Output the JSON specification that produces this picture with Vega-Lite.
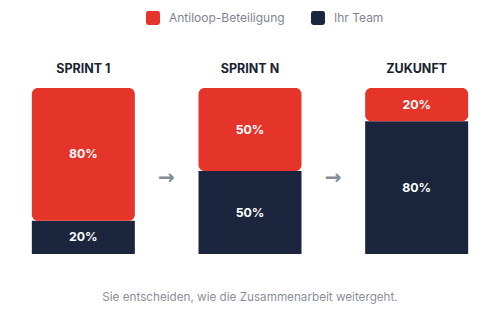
{
  "$schema": "https://vega.github.io/schema/vega-lite/v6.json",
  "width": 500,
  "height": 166,
  "autosize": {"type": "none"},
  "padding": {"top": 88, "left": 0, "right": 0, "bottom": 79},
  "background": "white",
  "config": {"view": {"stroke": null}, "font": "Inter"},
  "title": {
    "text": "Sie entscheiden, wie die Zusammenarbeit weitergeht.",
    "orient": "bottom",
    "anchor": "middle",
    "offset": 38,
    "fontSize": 11.7,
    "fontWeight": "normal",
    "color": "#8a8f9b",
    "font": "Inter"
  },
  "data": {
    "values": [
      {"stage": "SPRINT 1", "series": "Antiloop-Beteiligung", "value": 80},
      {"stage": "SPRINT 1", "series": "Ihr Team", "value": 20},
      {"stage": "SPRINT N", "series": "Antiloop-Beteiligung", "value": 50},
      {"stage": "SPRINT N", "series": "Ihr Team", "value": 50},
      {"stage": "ZUKUNFT", "series": "Antiloop-Beteiligung", "value": 20},
      {"stage": "ZUKUNFT", "series": "Ihr Team", "value": 80}
    ]
  },
  "transform": [
    {"stack": "value", "groupby": ["stage"], "sort": [{"field": "series", "order": "descending"}], "as": ["v0", "v1"]},
    {"calculate": "datum.value + '%'", "as": "label"}
  ],
  "encoding": {
    "x": {
      "field": "stage",
      "type": "nominal",
      "sort": ["SPRINT 1", "SPRINT N", "ZUKUNFT"],
      "scale": {"paddingInner": 0.382, "paddingOuter": 0.191},
      "axis": null
    }
  },
  "layer": [
    {
      "transform": [{"filter": "datum.series === 'Ihr Team'"}],
      "mark": {"type": "bar"},
      "encoding": {
        "y": {"field": "v0", "type": "quantitative", "scale": {"domain": [0, 100]}, "axis": null},
        "y2": {"field": "v1"},
        "color": {
          "field": "series",
          "type": "nominal",
          "scale": {"domain": ["Antiloop-Beteiligung", "Ihr Team"], "range": ["#e5342a", "#1b253e"]},
          "legend": {
            "title": null,
            "orient": "none",
            "direction": "horizontal",
            "legendX": 146,
            "legendY": -77,
            "padding": 0,
            "symbolType": "M-0.65,-1H0.65Q1,-1 1,-0.65V0.65Q1,1 0.65,1H-0.65Q-1,1 -1,0.65V-0.65Q-1,-1 -0.65,-1Z",
            "symbolSize": 196,
            "symbolStrokeWidth": 0,
            "symbolOpacity": 1,
            "labelFontSize": 12,
            "labelColor": "#7f8491",
            "labelFont": "Inter",
            "labelOffset": 9,
            "columnPadding": 26
          }
        }
      }
    },
    {
      "transform": [{"filter": "datum.series === 'Antiloop-Beteiligung'"}],
      "mark": {"type": "bar", "cornerRadius": 6},
      "encoding": {
        "y": {"field": "v0", "type": "quantitative"},
        "y2": {"field": "v1"},
        "color": {"field": "series", "type": "nominal"}
      }
    },
    {
      "mark": {"type": "text", "color": "white", "fontSize": 12.3, "fontWeight": "bold", "font": "Inter", "baseline": "middle"},
      "encoding": {
        "y": {"field": "v0", "type": "quantitative", "bandPosition": 0},
        "text": {"field": "label"}
      },
      "transform": [{"calculate": "(datum.v0 + datum.v1) / 2", "as": "v0"}]
    },
    {
      "transform": [{"filter": "datum.series === 'Ihr Team'"}],
      "mark": {"type": "text", "color": "#1b2233", "fontSize": 12.5, "fontWeight": "bold", "font": "Inter", "baseline": "middle", "dy": -19},
      "encoding": {
        "y": {"datum": 100},
        "text": {"field": "stage"}
      }
    },
    {
      "transform": [{"filter": "datum.series === 'Ihr Team' && datum.stage !== 'ZUKUNFT'"}],
      "mark": {"type": "text", "color": "#858a97", "fontSize": 20, "fontWeight": "bold", "font": "DejaVu Sans", "baseline": "middle", "dx": 83},
      "encoding": {
        "y": {"datum": 46},
        "text": {"value": "→"}
      }
    }
  ]
}
